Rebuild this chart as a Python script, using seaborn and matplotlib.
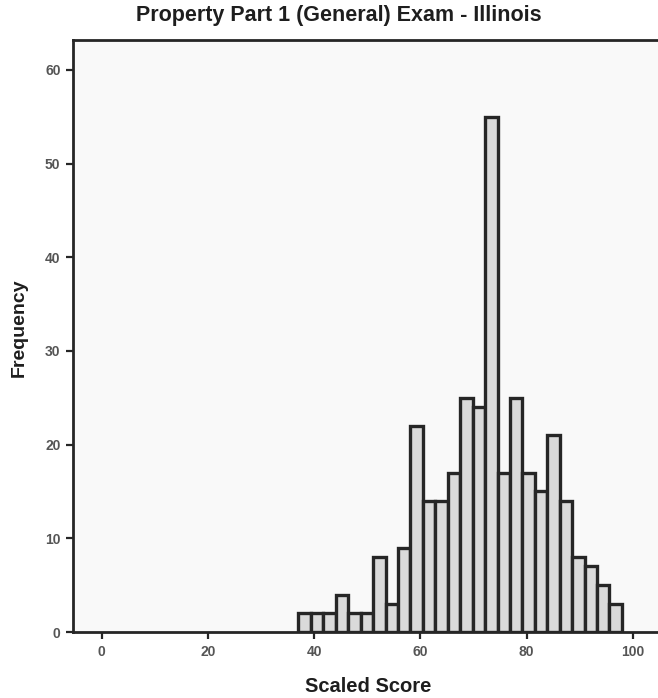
import numpy as np
import pandas as pd
import matplotlib
matplotlib.use("Agg")
import matplotlib.pyplot as plt
import seaborn as sns

# ---- data ----
bin_start = 37.05
bin_width = 2.343
counts = [2, 2, 2, 4, 2, 2, 8, 3, 9, 22, 14, 14, 17, 25,
          24, 55, 17, 25, 17, 15, 21, 14, 8, 7, 5, 3]
x_ticks = [0, 20, 40, 60, 80, 100]
y_ticks = [0, 10, 20, 30, 40, 50, 60]
title = "Property Part 1 (General) Exam - Illinois"
xlabel = "Scaled Score"
ylabel = "Frequency"

edges = bin_start + bin_width * np.arange(len(counts) + 1)
centers = (edges[:-1] + edges[1:]) / 2
df = pd.DataFrame({"score": centers, "count": counts})

sns.set_style("white")
plt.rcParams["font.family"] = ["Liberation Sans", "DejaVu Sans"]

fig = plt.figure(figsize=(6.58, 6.98), dpi=100)
ax = fig.add_axes([73 / 658, (698 - 632) / 698, 1.0 - 73 / 658 + 0.01, (632 - 40) / 698])
ax.set_facecolor("#f9f9f9")

sns.histplot(data=df, x="score", weights="count", binwidth=bin_width,
             binrange=(float(edges[0]), float(edges[-1])), ax=ax,
             color="#dadada", edgecolor="#262626", linewidth=2.4, alpha=1.0)

ax.set_xlim(-5.4, 106)
ax.set_ylim(0, 63.2)
ax.set_xticks(x_ticks)
ax.set_yticks(y_ticks)
ax.set_xlabel("")
ax.set_ylabel("")

for side in ["left", "bottom", "top"]:
    ax.spines[side].set_visible(True)
    ax.spines[side].set_color("#262626")
    ax.spines[side].set_linewidth(2.0)
ax.spines["right"].set_visible(False)

ax.tick_params(axis="both", which="both", direction="out", length=5, width=1.6,
               color="#262626", labelsize=10, labelcolor="#555555", pad=4,
               bottom=True, left=True)
for lab in ax.get_xticklabels() + ax.get_yticklabels():
    lab.set_fontweight("bold")

fig.text(339 / 658, 1 - 16 / 698, title, ha="center", va="center",
         fontsize=15.5, fontweight="bold", color="#1e1e1e")
fig.text(368 / 658, 1 - 686 / 698, xlabel, ha="center", va="center",
         fontsize=14.5, fontweight="bold", color="#1e1e1e")
fig.text(19 / 658, 1 - 328 / 698, ylabel, ha="center", va="center", rotation=90,
         fontsize=14, fontweight="bold", color="#1e1e1e")

fig.savefig("out.png", dpi=100, facecolor="white")
